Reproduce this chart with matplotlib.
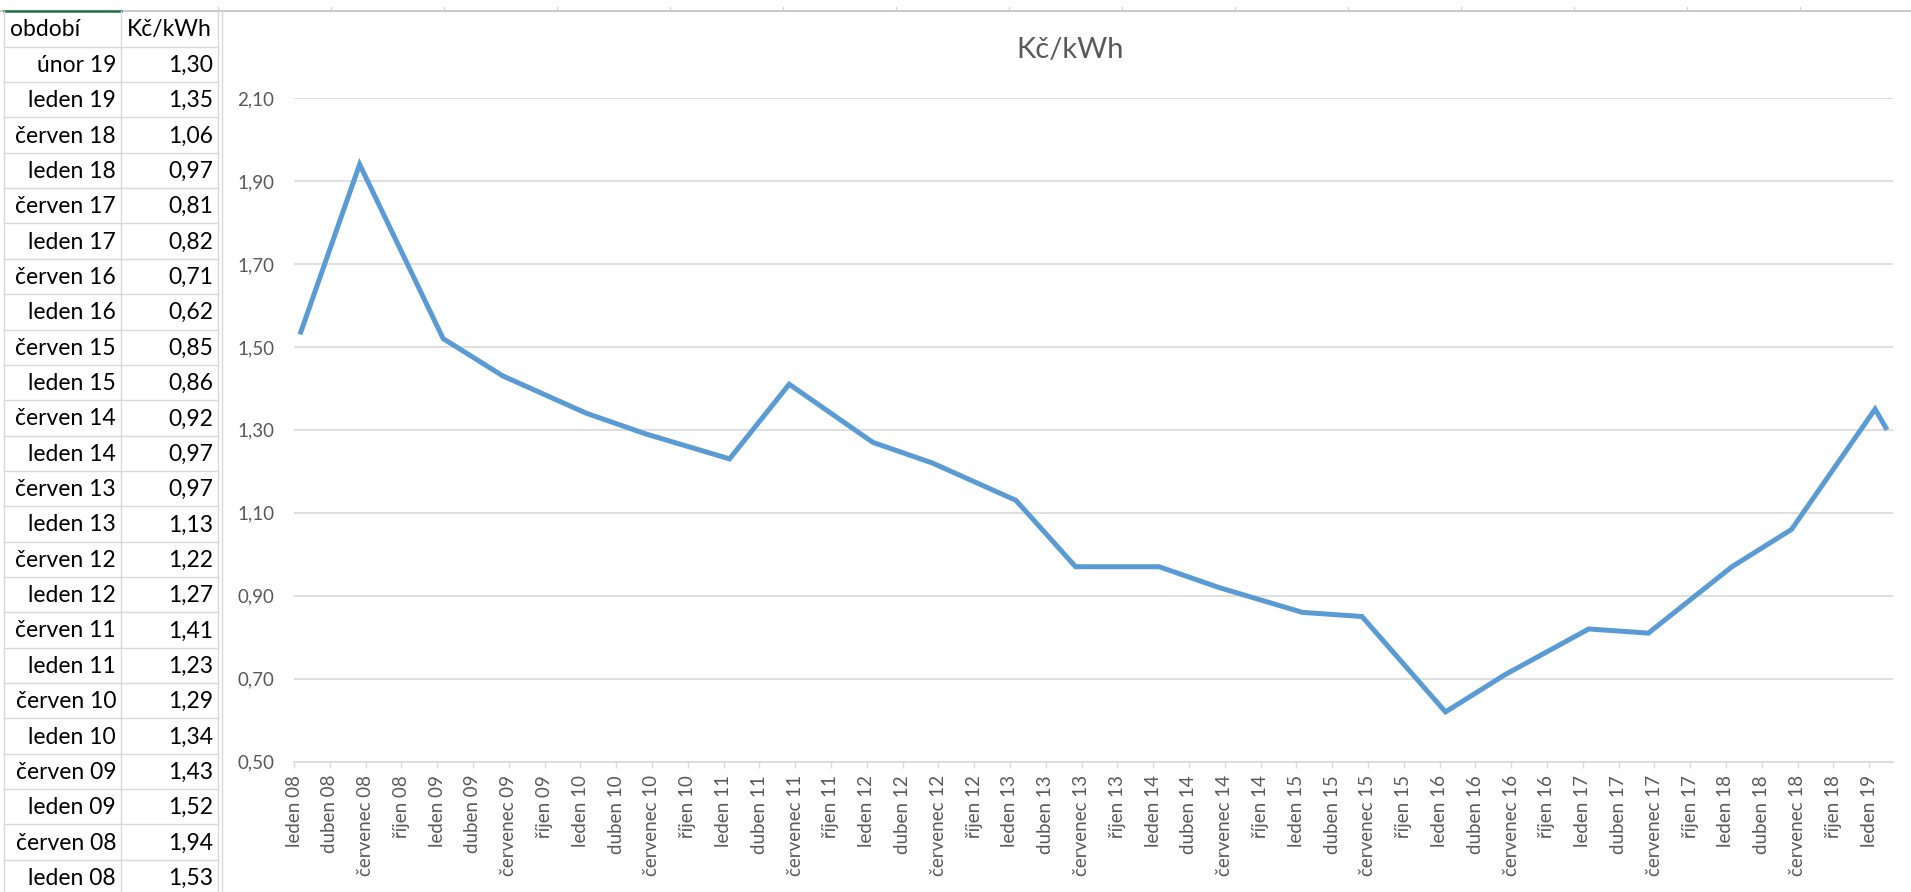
import matplotlib
matplotlib.use("Agg")
import matplotlib.pyplot as plt
from matplotlib.lines import Line2D

plt.rcParams['font.family'] = ['Lato', 'DejaVu Sans']

# ---- data (chronological) ----
periods = ["leden 08", "červen 08", "leden 09", "červen 09", "leden 10", "červen 10",
           "leden 11", "červen 11", "leden 12", "červen 12", "leden 13", "červen 13",
           "leden 14", "červen 14", "leden 15", "červen 15", "leden 16", "červen 16",
           "leden 17", "červen 17", "leden 18", "červen 18", "leden 19", "únor 19"]
values = [1.53, 1.94, 1.52, 1.43, 1.34, 1.29,
          1.23, 1.41, 1.27, 1.22, 1.13, 0.97,
          0.97, 0.92, 0.86, 0.85, 0.62, 0.71,
          0.82, 0.81, 0.97, 1.06, 1.35, 1.30]
month_names = {"leden": 1, "únor": 2, "červen": 6}
tick_month_names = ["leden", "duben", "červenec", "říjen"]
tick_years = ["08", "09", "10", "11", "12", "13", "14", "15", "16", "17", "18", "19"]
tick_labels = [f"{m} {y}" for y in tick_years for m in tick_month_names][:45]
y_ticks = [0.5, 0.7, 0.9, 1.1, 1.3, 1.5, 1.7, 1.9, 2.1]
title = "Kč/kWh"
table_headers = ["období", "Kč/kWh"]

def month_index(p):
    name, yy = p.split()
    return (int(yy) - 8) * 12 + month_names[name] - 1

xs = [month_index(p) + 0.5 for p in periods]

W, H = 1911, 892
fig = plt.figure(figsize=(W / 100, H / 100), dpi=100)
fig.patch.set_facecolor("white")

# ---- background / spreadsheet layer in pixel coords ----
bg = fig.add_axes([0, 0, 1, 1], zorder=0)
bg.set_xlim(0, W)
bg.set_ylim(H, 0)
bg.axis("off")

grid_c = "#D9D9D9"
# column header boundary at top
bg.plot([0, W], [11, 11], color="#BFBFBF", lw=1.2)
for k in range(0, 16):
    xk = 218 + 113 * k
    bg.plot([xk, xk], [7, 11], color="#D0D0D0", lw=0.8)
# green selected-column marker
bg.plot([4, 121], [10.5, 10.5], color="#217346", lw=1.8)

row_top = 46.7
row_h = 35.35
col_left, col_mid, col_right = 4, 121, 218
n_rows = len(periods)
# horizontal table lines
for i in range(n_rows + 2):
    yy = row_top + row_h * i
    if yy < H:
        bg.plot([col_left, col_right], [yy, yy], color=grid_c, lw=1.0)
# vertical table lines
for xv in [col_left, col_mid, col_right]:
    bg.plot([xv, xv], [11, H], color=grid_c, lw=1.0)
# chart area left border
bg.plot([222, 222], [11, H], color=grid_c, lw=1.0)

tfont = 16.5
bg.text(10, (11 + row_top) / 2 + 1, table_headers[0], ha="left", va="center",
        fontsize=tfont, color="black")
bg.text(127, (11 + row_top) / 2 + 1, table_headers[1], ha="left", va="center",
        fontsize=tfont, color="black")
for i, (p, v) in enumerate(zip(periods[::-1], values[::-1])):
    yc = row_top + row_h * i + row_h / 2 + 1
    bg.text(116, yc, p, ha="right", va="center", fontsize=tfont, color="black")
    bg.text(213, yc, f"{v:.2f}".replace(".", ","), ha="right", va="center",
            fontsize=tfont, color="black")

# ---- chart ----
ax = fig.add_axes([294 / W, 1 - 761.7 / H, (1893 - 294) / W, (761.7 - 98) / H], zorder=2)
ax.patch.set_alpha(0)
ax.plot(xs, values, color="#5B9BD5", lw=3.6, solid_joinstyle="miter",
        solid_capstyle="butt", zorder=3)
ax.set_xlim(0, 134)
ax.set_ylim(0.5, 2.1)
ax.set_yticks(y_ticks)
ax.set_yticklabels([f"{t:.2f}".replace(".", ",") for t in y_ticks])
ax.set_xticks(list(range(0, 133, 3)))
ax.set_xticklabels(tick_labels, rotation=90, ha="center", va="top")
ax.grid(axis="y", color=grid_c, lw=1.2, zorder=1)
ax.set_axisbelow(True)
for s in ["left", "right", "top"]:
    ax.spines[s].set_visible(False)
ax.spines["bottom"].set_color(grid_c)
ax.spines["bottom"].set_linewidth(1.2)
ax.tick_params(axis="y", length=0, pad=14, labelsize=13.5, labelcolor="#595959")
ax.tick_params(axis="x", length=4.5, width=1, color=grid_c, pad=5,
               labelsize=13.5, labelcolor="#595959")

fig.text(1070 / W, 1 - 50 / H, title, ha="center", va="center", fontsize=21,
         color="#595959")

fig.savefig("out.png", dpi=100, facecolor="white")
